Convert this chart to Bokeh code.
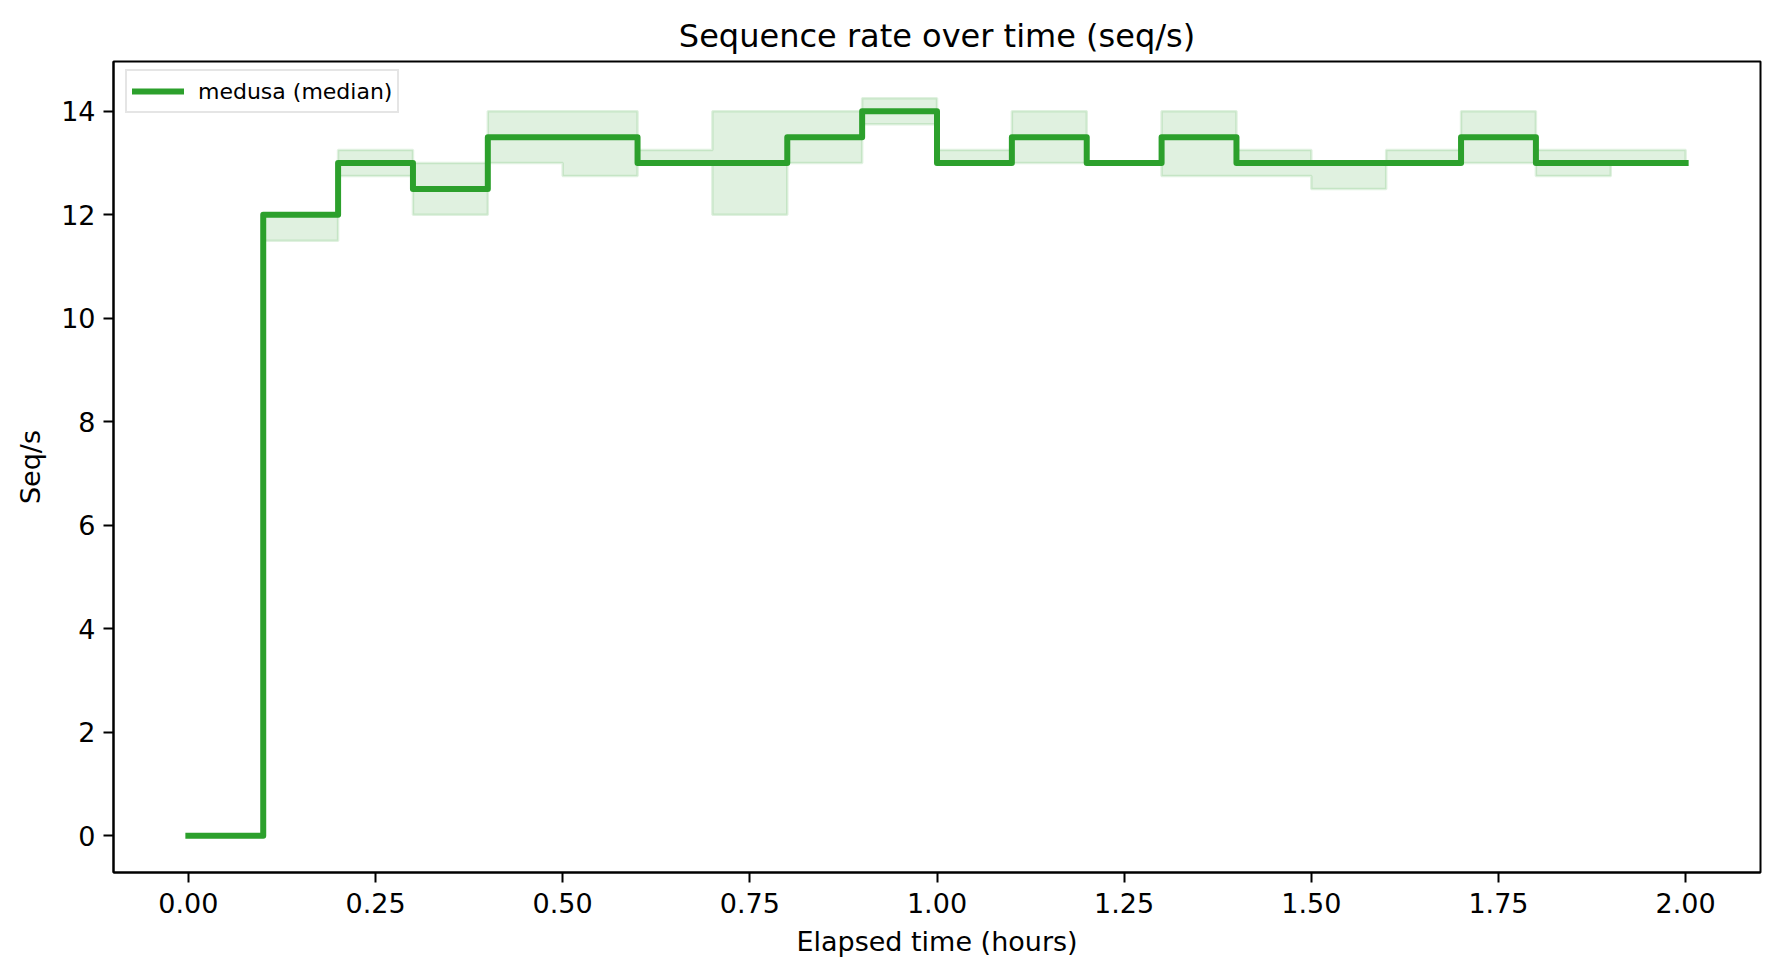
import numpy as np
from bokeh.plotting import figure
from bokeh.models import Range1d, FixedTicker, Legend, LegendItem
from bokeh.embed import file_html
from bokeh.resources import INLINE

# ---- data ----
hours = [0.0, 0.1, 0.2, 0.3, 0.4, 0.5, 0.6, 0.7, 0.8, 0.9, 1.0,
         1.1, 1.2, 1.3, 1.4, 1.5, 1.6, 1.7, 1.8, 1.9, 2.0]
median = [0, 12, 13, 12.5, 13.5, 13.5, 13, 13, 13.5, 14, 13,
          13.5, 13, 13.5, 13, 13, 13, 13.5, 13, 13, 13]
band_low = [0, 11.5, 12.75, 12, 13, 12.75, 13, 12, 13, 13.75, 13,
            13, 13, 12.75, 12.75, 12.5, 13, 13, 12.75, 13, 13]
band_high = [0, 12, 13.25, 13, 14, 14, 13.25, 14, 14, 14.25, 13.25,
             14, 13, 14, 13.25, 13, 13.25, 14, 13.25, 13.25, 13.25]
x_ticks = [0.0, 0.25, 0.5, 0.75, 1.0, 1.25, 1.5, 1.75, 2.0]
x_tick_labels = ["0.00", "0.25", "0.50", "0.75", "1.00", "1.25", "1.50", "1.75", "2.00"]
y_ticks = [0, 2, 4, 6, 8, 10, 12, 14]

GREEN = "#2ca02c"
FONT = "DejaVu Sans"

p = figure(width=1779, height=978, output_backend="svg", toolbar_location=None,
           x_range=Range1d(-0.1, 2.1), y_range=Range1d(-0.7125, 14.9625),
           min_border_left=113, min_border_right=19, min_border_top=61, min_border_bottom=106,
           title="Sequence rate over time (seq/s)")
p.background_fill_color = "white"
p.border_fill_color = "white"
p.outline_line_color = "black"
p.outline_line_width = 2
p.grid.visible = False

p.title.align = "center"
p.title.text_font = FONT
p.title.text_font_size = "32px"
p.title.text_font_style = "normal"
p.title.text_color = "black"
p.title.standoff = 13

# band (step polygon built from data arrays)
xa = np.array(hours, dtype=float)
hi = np.array(band_high, dtype=float)
lo = np.array(band_low, dtype=float)
xs_step = np.repeat(xa, 2)[1:]
hi_step = np.repeat(hi, 2)[:-1]
lo_step = np.repeat(lo, 2)[:-1]
poly_x = np.concatenate([xs_step, xs_step[::-1]])
poly_y = np.concatenate([hi_step, lo_step[::-1]])
p.patch(poly_x, poly_y, fill_color=GREEN, fill_alpha=0.15,
        line_color=GREEN, line_alpha=0.15, line_width=2.5)

# median step line
r = p.step(hours, median, mode="after", line_color=GREEN, line_width=6,
           line_join="round", line_cap="square")

legend = Legend(items=[LegendItem(label="medusa (median)", renderers=[r])],
                location=(12, 759), margin=0, padding=5, spacing=0,
                glyph_width=52, glyph_height=30, label_standoff=14,
                label_text_font=FONT, label_text_font_size="22px",
                label_text_color="black",
                border_line_color="#cccccc", border_line_width=2,
                background_fill_alpha=0.8)
p.add_layout(legend)

for ax in (p.xaxis[0], p.yaxis[0]):
    ax.axis_line_color = "black"
    ax.axis_line_width = 2
    ax.major_tick_line_color = "black"
    ax.major_tick_line_width = 2
    ax.major_tick_out = 10
    ax.major_tick_in = 0
    ax.minor_tick_out = 0
    ax.minor_tick_in = 0
    ax.major_label_text_font = FONT
    ax.major_label_text_font_size = "27px"
    ax.major_label_text_color = "black"
    ax.axis_label_text_font = FONT
    ax.axis_label_text_font_size = "27px"
    ax.axis_label_text_font_style = "normal"
    ax.axis_label_text_color = "black"

p.xaxis[0].ticker = FixedTicker(ticks=x_ticks)
p.xaxis[0].major_label_overrides = {t: l for t, l in zip(x_ticks, x_tick_labels)}
p.xaxis[0].axis_label = "Elapsed time (hours)"
p.xaxis[0].major_label_standoff = 10
p.xaxis[0].axis_label_standoff = 10

p.yaxis[0].ticker = FixedTicker(ticks=y_ticks)
p.yaxis[0].axis_label = "Seq/s"
p.yaxis[0].major_label_standoff = 8
p.yaxis[0].axis_label_standoff = 12

open("out.html", "w").write(file_html(p, INLINE))
